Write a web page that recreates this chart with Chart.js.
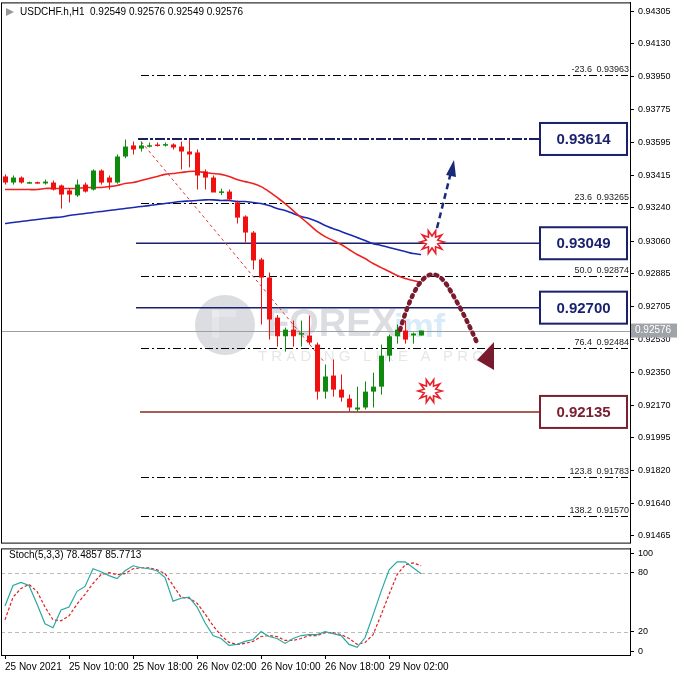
<!DOCTYPE html>
<html>
<head>
<meta charset="utf-8">
<script src="https://cdn.jsdelivr.net/npm/chart.js@4"></script>
<style>
  body { margin: 0; background: #fff; }
  #wrap { position: relative; width: 678px; height: 678px; overflow: hidden; }
  #main { position: absolute; left: 0; top: -7px; }
  #stoch { position: absolute; left: 0; top: 539px; }
</style>
</head>
<body>
<div id="wrap">
  <canvas id="main" width="678" height="559"></canvas>
  <canvas id="stoch" width="678" height="136"></canvas>
</div>
<script>
// candles: [open, high, low, close]
const candles = [
  [0.93411,0.93422,0.93367,0.93378],[0.93378,0.93416,0.93367,0.93405],[0.93405,0.93411,0.93372,0.93378],
  [0.93378,0.93383,0.93372,0.93380],[0.93380,0.93383,0.93372,0.93378],[0.93373,0.93394,0.93367,0.93383],
  [0.93378,0.93389,0.93335,0.93340],[0.93362,0.93367,0.93237,0.93313],[0.93335,0.93345,0.93270,0.93313],
  [0.93308,0.93394,0.93300,0.93367],[0.93367,0.93378,0.93324,0.93329],[0.93340,0.93449,0.93335,0.93443],
  [0.93443,0.93449,0.93367,0.93378],[0.93405,0.93416,0.93340,0.93378],[0.93378,0.93530,0.93372,0.93519],
  [0.93519,0.93611,0.93510,0.93573],[0.93579,0.93600,0.93530,0.93557],[0.93562,0.93600,0.93546,0.93579],
  [0.93579,0.93595,0.93568,0.93580],[0.93584,0.93595,0.93573,0.93582],[0.93580,0.93595,0.93573,0.93586],
  [0.93584,0.93590,0.93557,0.93568],[0.93573,0.93600,0.93449,0.93546],[0.93546,0.93611,0.93460,0.93530],
  [0.93541,0.93557,0.93340,0.93416],[0.93438,0.93449,0.93340,0.93405],[0.93405,0.93416,0.93329,0.93324],
  [0.93324,0.93345,0.93310,0.93330],[0.93329,0.93340,0.93280,0.93286],[0.93270,0.93280,0.93156,0.93188],
  [0.93194,0.93200,0.93053,0.93107],[0.93107,0.93115,0.92907,0.92956],[0.92961,0.92970,0.92609,0.92863],
  [0.92863,0.92890,0.92527,0.92636],[0.92646,0.92660,0.92489,0.92545],[0.92545,0.92592,0.92462,0.92581],
  [0.92581,0.92630,0.92489,0.92545],[0.92560,0.92630,0.92489,0.92562],[0.92549,0.92657,0.92500,0.92511],
  [0.92500,0.92511,0.92202,0.92245],[0.92245,0.92392,0.92207,0.92327],[0.92332,0.92419,0.92218,0.92256],
  [0.92256,0.92338,0.92191,0.92213],[0.92207,0.92229,0.92137,0.92159],[0.92148,0.92272,0.92137,0.92159],
  [0.92159,0.92300,0.92148,0.92245],[0.92245,0.92348,0.92159,0.92272],[0.92272,0.92500,0.92229,0.92440],
  [0.92440,0.92554,0.92408,0.92545],[0.92545,0.92609,0.92505,0.92581],[0.92576,0.92630,0.92505,0.92527],
  [0.92549,0.92565,0.92505,0.92560],[0.92549,0.92576,0.92549,0.92576]
];
const maRed = [0.93340,0.93340,0.93340,0.93340,0.93340,0.93346,0.93346,0.93346,0.93346,0.93346,
  0.93351,0.93351,0.93351,0.93356,0.93362,0.93373,0.93378,0.93389,0.93400,0.93411,
  0.93422,0.93427,0.93432,0.93438,0.93438,0.93432,0.93427,0.93422,0.93411,0.93394,
  0.93383,0.93373,0.93356,0.93329,0.93297,0.93264,0.93226,0.93188,0.93151,0.93113,
  0.93085,0.93064,0.93042,0.93015,0.92988,0.92966,0.92939,0.92917,0.92896,0.92874,
  0.92858,0.92847,0.92836];
const maBlue = [0.93156,0.93161,0.93167,0.93172,0.93178,0.93183,0.93188,0.93191,0.93199,0.93205,
  0.93210,0.93216,0.93221,0.93226,0.93232,0.93237,0.93243,0.93248,0.93253,0.93259,
  0.93264,0.93270,0.93275,0.93278,0.93281,0.93284,0.93284,0.93281,0.93281,0.93275,
  0.93275,0.93270,0.93264,0.93253,0.93237,0.93226,0.93210,0.93194,0.93183,0.93167,
  0.93145,0.93128,0.93113,0.93096,0.93080,0.93064,0.93047,0.93037,0.93026,0.93015,
  0.93004,0.92993,0.92988];
const stochMain = [46,67,70,67,48,28,24,42,45,61,66,84,81,77,74,82,87,85,84,82,
  75,51,54,55,45,29,16,13,6,7,10,12,20,15,13,8,13,16,17,17,
  20,18,16,7,4,14,37,61,83,91,91,85,79];
const stochSignal = [32,55,64,68,61,45,32,31,36,48,58,69,78,80,78,79,84,85,85,83,
  79,67,55,54,49,38,26,16,9,7,8,10,15,16,15,11,11,13,16,16,
  19,19,17,13,7,9,17,37,58,78,88,90,87];
const priceTicks = [0.94305,0.94130,0.93950,0.93775,0.93595,0.93415,0.93240,0.93060,0.92885,
  0.92705,0.92530,0.92350,0.92170,0.91995,0.91820,0.91640,0.91465];
const stochTicks = [100,80,20,0];
const timeTickIdx = [0,8,16,24,32,40,48];
const timeLabels = ['25 Nov 2021','25 Nov 10:00','25 Nov 18:00','26 Nov 02:00','26 Nov 10:00','26 Nov 18:00','29 Nov 02:00'];
// fibonacci levels: [ratio, price]
const fibLevels = [['-23.6',0.93963],['23.6',0.93265],['50.0',0.92874],['76.4',0.92484],['123.8',0.91783],['138.2',0.91570]];
const fibTop = 0.93614;
const keyLevels = [0.93049, 0.92700];
const supportLevel = 0.92135;
const lastPrice = 0.92576;

const FONT = '"Liberation Sans", Arial, sans-serif';
const X_MIN = -0.5, X_MAX = 78.1;

function fixWidth(axis) { axis.width = 48; }

function star(ctx, cx, cy) {
  ctx.save();
  ctx.beginPath();
  for (let k = 0; k < 20; k++) {
    const r = k % 2 ? 6 : 12;
    const a = k * Math.PI / 10;
    ctx.lineTo(cx + r * Math.cos(a), cy + r * Math.sin(a));
  }
  ctx.closePath();
  ctx.fillStyle = '#fff';
  ctx.fill();
  ctx.strokeStyle = '#e8202a';
  ctx.lineWidth = 1.6;
  ctx.stroke();
  ctx.restore();
}

const mainPlugin = {
  id: 'mainDraw',
  beforeDatasetsDraw(chart) {
    const { ctx, scales: { x, y }, chartArea: a } = chart;
    ctx.save();
    ctx.translate(0, 7); // page coordinates for free-hand drawings
    // watermark
    ctx.globalAlpha = 0.22;
    ctx.fillStyle = '#5a6378';
    ctx.beginPath(); ctx.arc(225, 325, 30, 0, Math.PI * 2); ctx.fill();
    ctx.fillStyle = '#fff';
    ctx.fillRect(212, 310, 24, 7); ctx.fillRect(212, 310, 7, 28);
    ctx.fillStyle = '#5a6378';
    ctx.font = 'bold 38px ' + FONT;
    ctx.textBaseline = 'middle';
    ctx.fillText('FOREX', 266, 326);
    ctx.fillStyle = '#4aa3e0';
    ctx.font = 'bold 34px ' + FONT;
    ctx.fillText('imf', 394, 328);
    ctx.fillStyle = '#8a8f9a';
    ctx.font = '15px ' + FONT;
    ctx.fillText('T R A D I N G   L I K E   A   P R O', 258, 357);
    ctx.globalAlpha = 1;
    ctx.restore();

    ctx.save();
    // last price line
    ctx.strokeStyle = '#9aa0a6'; ctx.lineWidth = 1;
    const yl = Math.round(y.getPixelForValue(lastPrice)) + 0.5;
    ctx.beginPath(); ctx.moveTo(a.left, yl); ctx.lineTo(a.right, yl); ctx.stroke();

    // fibonacci levels
    ctx.strokeStyle = '#000'; ctx.setLineDash([8, 3, 2, 3]);
    ctx.font = '9px ' + FONT; ctx.fillStyle = '#222'; ctx.textBaseline = 'bottom';
    fibLevels.forEach(([r, p]) => {
      const yy = Math.round(y.getPixelForValue(p)) + 0.5;
      ctx.beginPath(); ctx.moveTo(141, yy); ctx.lineTo(a.right - 2, yy); ctx.stroke();
      ctx.textAlign = 'right';
      ctx.fillText(p.toFixed(5), a.right - 1, yy - 1);
      ctx.fillText(r, a.right - 38, yy - 1);
    });
    // 0% level
    ctx.strokeStyle = '#1a1f5e'; ctx.lineWidth = 2; ctx.setLineDash([10, 2, 3, 2]);
    const yt = y.getPixelForValue(fibTop);
    ctx.beginPath(); ctx.moveTo(138, yt); ctx.lineTo(a.right - 2, yt); ctx.stroke();
    ctx.setLineDash([]);

    // key levels
    ctx.lineWidth = 1.5;
    ctx.strokeStyle = '#1a1f6e';
    keyLevels.forEach(p => {
      const yy = y.getPixelForValue(p);
      ctx.beginPath(); ctx.moveTo(136, yy); ctx.lineTo(540, yy); ctx.stroke();
    });
    ctx.strokeStyle = '#8b2a1e';
    const ys = y.getPixelForValue(supportLevel);
    ctx.beginPath(); ctx.moveTo(140, ys); ctx.lineTo(540, ys); ctx.stroke();

    // trend line from top
    ctx.strokeStyle = '#e03030'; ctx.lineWidth = 1; ctx.setLineDash([3, 3]);
    ctx.beginPath();
    ctx.moveTo(x.getPixelForValue(17), y.getPixelForValue(0.93600));
    ctx.lineTo(x.getPixelForValue(40), y.getPixelForValue(0.92400));
    ctx.stroke();
    ctx.setLineDash([]);
    ctx.restore();
  },
  afterDatasetsDraw(chart) {
    const { ctx, scales: { x, y }, chartArea: a } = chart;
    ctx.save();
    // candles
    candles.forEach(([o, h, l, c], i) => {
      const px = Math.round(x.getPixelForValue(i));
      const col = c >= o ? '#0f8a0f' : '#f01010';
      ctx.fillStyle = col;
      const yh = y.getPixelForValue(h), yl = y.getPixelForValue(l);
      ctx.fillRect(px, yh, 1, yl - yh);
      const yo = y.getPixelForValue(o), yc = y.getPixelForValue(c);
      const top = Math.min(yo, yc), hgt = Math.max(1.5, Math.abs(yo - yc));
      ctx.fillRect(px - 2, top, 5, hgt);
    });

    // last price tag
    const ylp = y.getPixelForValue(lastPrice);
    ctx.fillStyle = '#a0a4aa'; ctx.fillRect(a.right + 1, ylp - 7, 46, 14);
    ctx.fillStyle = '#fff'; ctx.font = '10px ' + FONT; ctx.textBaseline = 'middle';
    ctx.fillText(lastPrice.toFixed(5), a.right + 5, ylp);

    // frame
    ctx.strokeStyle = '#000'; ctx.lineWidth = 1;
    ctx.strokeRect(a.left + 0.5, a.top + 0.5, a.right - a.left, a.bottom - a.top);

    // level boxes
    const boxes = [[fibTop, '#1a1f6e'], [keyLevels[0], '#1a1f6e'], [keyLevels[1], '#1a1f6e'], [supportLevel, '#7a2030']];
    ctx.font = 'bold 15px ' + FONT; ctx.textAlign = 'center'; ctx.textBaseline = 'middle';
    boxes.forEach(([p, col]) => {
      const yy = y.getPixelForValue(p);
      ctx.fillStyle = '#fff'; ctx.fillRect(540, yy - 16, 87, 32);
      ctx.strokeStyle = col; ctx.lineWidth = 2; ctx.strokeRect(540, yy - 16, 87, 32);
      ctx.fillStyle = col; ctx.fillText(p.toFixed(5), 583.5, yy + 1);
    });

    ctx.translate(0, 7); // page coordinates for free-hand drawings
    // blue dashed arrow
    ctx.strokeStyle = '#1a2a7a'; ctx.lineWidth = 2.5; ctx.setLineDash([6, 4]);
    ctx.beginPath(); ctx.moveTo(437, 228); ctx.lineTo(451, 172); ctx.stroke();
    ctx.setLineDash([]);
    ctx.fillStyle = '#1a2a7a';
    ctx.beginPath(); ctx.moveTo(454, 160); ctx.lineTo(446, 175); ctx.lineTo(456, 177); ctx.closePath(); ctx.fill();

    // maroon dotted curve
    ctx.strokeStyle = '#7a1a2e'; ctx.lineWidth = 4.5; ctx.setLineDash([2, 5]); ctx.lineCap = 'round';
    ctx.beginPath(); ctx.moveTo(400, 330);
    ctx.quadraticCurveTo(425, 245, 450, 290);
    ctx.quadraticCurveTo(465, 315, 478, 345);
    ctx.stroke();
    ctx.setLineDash([]);
    ctx.fillStyle = '#7a1a2e';
    ctx.beginPath(); ctx.moveTo(477, 360); ctx.lineTo(494, 342); ctx.lineTo(494, 370); ctx.closePath(); ctx.fill();

    star(ctx, 432, 242);
    star(ctx, 430, 391);

    // title
    ctx.fillStyle = '#000'; ctx.font = '10px ' + FONT; ctx.textAlign = 'left'; ctx.textBaseline = 'middle';
    ctx.fillText('USDCHF.h,H1  0.92549 0.92576 0.92549 0.92576', 20, 12);
    ctx.fillStyle = '#999';
    ctx.beginPath(); ctx.moveTo(6, 8); ctx.lineTo(14, 12); ctx.lineTo(6, 16); ctx.closePath(); ctx.fill();
    ctx.restore();
  }
};

new Chart(document.getElementById('main'), {
  type: 'line',
  data: {
    datasets: [
      { data: maRed.map((v, i) => ({ x: i, y: v })), borderColor: '#ee2222', borderWidth: 1.6, pointRadius: 0, tension: 0.3 },
      { data: maBlue.map((v, i) => ({ x: i, y: v })), borderColor: '#1a2ab0', borderWidth: 1.6, pointRadius: 0, tension: 0.3 }
    ]
  },
  options: {
    responsive: false, animation: false,
    layout: { padding: { left: 1, top: 1, right: 0, bottom: 0 } },
    plugins: { legend: { display: false }, tooltip: { enabled: false } },
    scales: {
      x: { type: 'linear', min: X_MIN, max: X_MAX, display: false },
      y: {
        position: 'right', min: 0.91427, max: 0.94354, afterFit: fixWidth,
        afterBuildTicks: ax => { ax.ticks = priceTicks.map(v => ({ value: v })); },
        ticks: { color: '#000', font: { size: 9, family: FONT }, padding: 4, callback: v => v.toFixed(5) },
        grid: { drawOnChartArea: false, tickLength: 4, color: '#000' },
        border: { color: '#000' }
      }
    }
  },
  plugins: [mainPlugin]
});

const stochPlugin = {
  id: 'stochDraw',
  beforeDatasetsDraw(chart) {
    const { ctx, scales: { y }, chartArea: a } = chart;
    ctx.save();
    ctx.strokeStyle = '#bbb'; ctx.setLineDash([4, 3]); ctx.lineWidth = 1;
    [80, 20].forEach(v => {
      const yy = Math.round(y.getPixelForValue(v)) + 0.5;
      ctx.beginPath(); ctx.moveTo(a.left, yy); ctx.lineTo(a.right, yy); ctx.stroke();
    });
    ctx.restore();
  },
  afterDraw(chart) {
    const { ctx, chartArea: a } = chart;
    ctx.save();
    ctx.fillStyle = '#000'; ctx.font = '10px ' + FONT; ctx.textBaseline = 'middle';
    ctx.fillText('Stoch(5,3,3) 78.4857 85.7713', 9, a.top + 7);
    ctx.strokeStyle = '#000'; ctx.lineWidth = 1;
    ctx.strokeRect(a.left + 0.5, a.top + 0.5, a.right - a.left, a.bottom - a.top);
    ctx.restore();
  }
};

new Chart(document.getElementById('stoch'), {
  type: 'line',
  data: {
    datasets: [
      { data: stochMain.map((v, i) => ({ x: i, y: v })), borderColor: '#2aa8a0', borderWidth: 1.2, pointRadius: 0 },
      { data: stochSignal.map((v, i) => ({ x: i, y: v })), borderColor: '#e02020', borderWidth: 1.2, borderDash: [3, 2], pointRadius: 0 }
    ]
  },
  options: {
    responsive: false, animation: false,
    layout: { padding: { left: 1, top: 0, right: 0, bottom: 0 } },
    plugins: { legend: { display: false }, tooltip: { enabled: false } },
    scales: {
      x: {
        type: 'linear', min: X_MIN, max: X_MAX,
        afterBuildTicks: ax => { ax.ticks = timeTickIdx.map(v => ({ value: v })); },
        ticks: { align: 'start', maxRotation: 0, color: '#000', font: { size: 10, family: FONT }, padding: 2,
          callback: v => timeLabels[timeTickIdx.indexOf(v)] },
        grid: { drawOnChartArea: false, tickLength: 4, color: '#000' },
        border: { color: '#000' }
      },
      y: {
        position: 'right', min: -3.8, max: 104.7, afterFit: fixWidth,
        afterBuildTicks: ax => { ax.ticks = stochTicks.map(v => ({ value: v })); },
        ticks: { color: '#000', font: { size: 9, family: FONT }, padding: 4 },
        grid: { drawOnChartArea: false, tickLength: 4, color: '#000' },
        border: { color: '#000' }
      }
    }
  },
  plugins: [stochPlugin]
});
</script>
</body>
</html>
